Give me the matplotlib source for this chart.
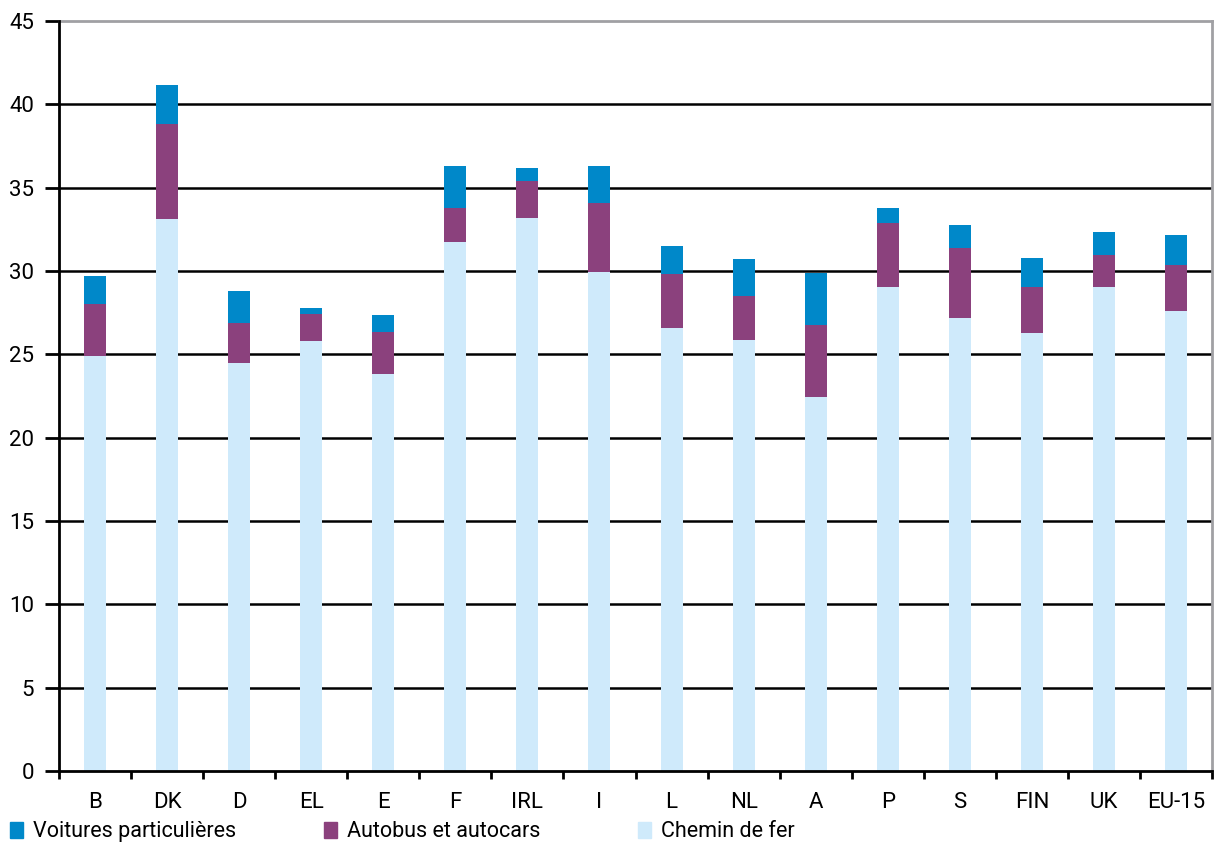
import matplotlib.pyplot as plt
import matplotlib.patches as mpatches
import numpy as np

plt.rcParams['font.family'] = ['Roboto', 'DejaVu Sans']

pays = ['B', 'DK', 'D', 'EL', 'E', 'F', 'IRL', 'I', 'L', 'NL', 'A', 'P', 'S', 'FIN', 'UK', 'EU-15']

chemin_de_fer = [24.9, 33.1, 24.5, 25.8, 23.8, 31.75, 33.2, 29.95, 26.6, 25.85, 22.45, 29.05, 27.2, 26.3, 29.05, 27.6]
autobus = [3.1, 5.7, 2.4, 1.6, 2.55, 2.05, 2.2, 4.15, 3.2, 2.65, 4.3, 3.85, 4.2, 2.75, 1.9, 2.75]
voitures = [1.7, 2.35, 1.9, 0.4, 1.0, 2.5, 0.8, 2.2, 1.7, 2.2, 3.1, 0.9, 1.35, 1.7, 1.4, 1.8]

noms = ['Voitures particulières', 'Autobus et autocars', 'Chemin de fer']
couleurs = ['#0088c9', '#8b417d', '#cfeafb']

W, H = 1214, 843
fig = plt.figure(figsize=(W / 100, H / 100), dpi=100)
ax = fig.add_axes([59 / W, (H - 771) / H, 1153 / W, 750 / H])

x = np.arange(len(pays))
larg = 0.305
rail = np.array(chemin_de_fer)
bus = np.array(autobus)
ax.bar(x, rail, larg, color=couleurs[2], zorder=3)
ax.bar(x, bus, larg, bottom=rail, color=couleurs[1], zorder=3)
ax.bar(x, voitures, larg, bottom=rail + bus, color=couleurs[0], zorder=3)

ax.set_xlim(-0.5, len(pays) - 0.5)
ax.set_ylim(0, 45)
ax.set_yticks(np.arange(0, 46, 5))
for v in range(5, 45, 5):
    ax.axhline(v, color='black', lw=1.8, zorder=1)

ax.set_xticks(x)
ax.set_xticklabels(pays)
ax.set_xticks(np.arange(-0.5, len(pays)), minor=True)
ax.tick_params(axis='x', which='major', length=0, pad=15, labelsize=16)
ax.tick_params(axis='x', which='minor', length=6, width=2, direction='out')
ax.tick_params(axis='y', length=10, width=2, pad=8, labelsize=16)

for s in ['top', 'right']:
    ax.spines[s].set_color('#a0a0a4')
    ax.spines[s].set_linewidth(2)
for s in ['left', 'bottom']:
    ax.spines[s].set_linewidth(2)
    ax.spines[s].set_zorder(4)

# legende en bas, sur trois colonnes
for i, (nom, c) in enumerate(zip(noms, couleurs)):
    x0 = 10 + i * 314
    fig.add_artist(mpatches.Rectangle((x0 / W, 5 / H), 13 / W, 16 / H,
                                      transform=fig.transFigure, color=c))
    fig.text((x0 + 23) / W, 6 / H, nom, fontsize=15.5, va='baseline', ha='left')

plt.savefig('out.png', dpi=100)
